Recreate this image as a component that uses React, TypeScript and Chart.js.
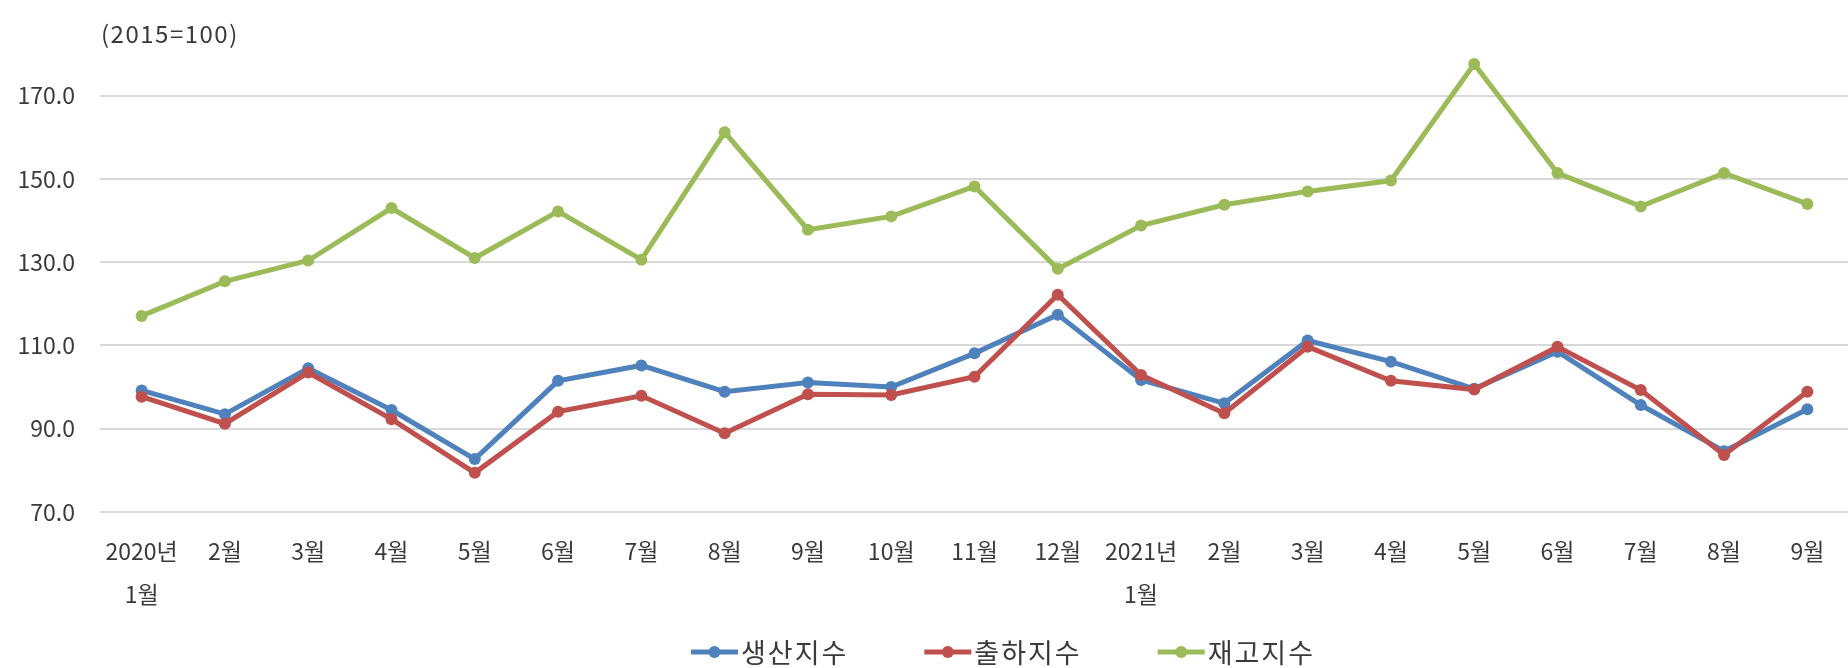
import React, { useEffect, useRef } from 'react';
import { Chart, registerables } from 'chart.js';

Chart.register(...registerables);

// ---- data ----
const categories: (string | string[])[] = [
  ['2020년', '1월'], '2월', '3월', '4월', '5월', '6월', '7월', '8월', '9월', '10월', '11월', '12월',
  ['2021년', '1월'], '2월', '3월', '4월', '5월', '6월', '7월', '8월', '9월',
];
const productionIndex = [99.2, 93.5, 104.5, 94.5, 82.7, 101.5, 105.2, 98.9, 101.1, 100.0, 108.1, 117.4, 101.7, 96.1, 111.2, 106.1, 99.6, 108.5, 95.7, 84.6, 94.7];
const shipmentIndex = [97.7, 91.2, 103.5, 92.3, 79.4, 94.1, 97.9, 88.9, 98.3, 98.1, 102.5, 122.2, 102.9, 93.7, 109.7, 101.5, 99.4, 109.7, 99.3, 83.7, 98.9];
const inventoryIndex = [117.1, 125.4, 130.4, 143.0, 131.0, 142.2, 130.6, 161.2, 137.8, 141.0, 148.2, 128.4, 138.8, 143.8, 147.0, 149.6, 177.6, 151.4, 143.4, 151.4, 144.0];
const seriesNames = ['생산지수', '출하지수', '재고지수'];
const yTicks = [70, 90, 110, 130, 150, 170];
const unitLabel = '(2015=100)';

const FONT = '"Noto Sans CJK KR", "Noto Sans", sans-serif';
const TEXT = '#3a3a3a';
const COLORS = ['#4F81BD', '#C0504D', '#9BBB59'];

const overlayPlugin = {
  id: 'overlay',
  afterDraw(chart: any) {
    const ctx = chart.ctx as CanvasRenderingContext2D;
    ctx.save();
    ctx.fillStyle = TEXT;
    ctx.textBaseline = 'middle';
    ctx.textAlign = 'left';
    ctx.font = `24px ${FONT}`;
    try { (ctx as any).letterSpacing = '1.5px'; } catch (e) {}
    ctx.fillText(unitLabel, chart.chartArea.left + 1, 34);

    const ds = chart.data.datasets;
    ctx.font = `27px ${FONT}`;
    try { (ctx as any).letterSpacing = '2px'; } catch (e) {}
    const lineW = 47;
    const gap = 3;
    const itemGap = 76;
    const widths = ds.map((d: any) => lineW + gap + ctx.measureText(d.label).width);
    const total = widths.reduce((a: number, b: number) => a + b, 0) + itemGap * (ds.length - 1);
    let x = 1003 - total / 2;
    const y = 652;
    ds.forEach((d: any, i: number) => {
      ctx.strokeStyle = d.borderColor;
      ctx.lineWidth = 5;
      ctx.beginPath();
      ctx.moveTo(x, y);
      ctx.lineTo(x + lineW, y);
      ctx.stroke();
      ctx.fillStyle = d.borderColor;
      ctx.beginPath();
      ctx.arc(x + lineW / 2, y, 6, 0, Math.PI * 2);
      ctx.fill();
      ctx.fillStyle = TEXT;
      ctx.fillText(d.label, x + lineW + gap, y + 1);
      x += widths[i] + itemGap;
    });
    ctx.restore();
  },
};

export default function App() {
  const ref = useRef<HTMLCanvasElement | null>(null);

  useEffect(() => {
    if (!ref.current) return;
    const seriesData = [productionIndex, shipmentIndex, inventoryIndex];
    const chart = new Chart(ref.current, {
      type: 'line',
      data: {
        labels: categories as any,
        datasets: seriesNames.map((name, i) => ({
          label: name,
          data: seriesData[i],
          borderColor: COLORS[i],
          backgroundColor: COLORS[i],
          borderWidth: 5,
          pointRadius: 6,
          pointHoverRadius: 6,
          pointBorderWidth: 0,
          pointBackgroundColor: COLORS[i],
          tension: 0,
          order: 3 - i,
        })),
      },
      options: {
        responsive: false,
        animation: false,
        layout: { padding: { top: 54, bottom: 52, left: 0, right: 0 } },
        plugins: {
          legend: { display: false },
          tooltip: { enabled: false },
          title: { display: false },
        },
        scales: {
          x: {
            type: 'category',
            offset: true,
            grid: { display: false, drawTicks: false },
            border: { display: false },
            ticks: {
              autoSkip: false,
              maxRotation: 0,
              minRotation: 0,
              padding: 18,
              color: TEXT,
              font: { family: FONT, size: 23, lineHeight: 1.87 },
            },
            afterFit: (scale: any) => { scale.height = 104; },
          },
          y: {
            type: 'linear',
            min: 70,
            max: 180,
            grid: { color: '#d9d9d9', lineWidth: 2, drawTicks: false },
            border: { display: false },
            ticks: {
              padding: 25,
              color: TEXT,
              font: { family: FONT, size: 23 },
              callback: (v: any) => Number(v).toFixed(1),
            },
            afterBuildTicks: (scale: any) => { scale.ticks = yTicks.map((v) => ({ value: v })); },
            afterFit: (scale: any) => { scale.width = 100; },
          },
        },
      },
      plugins: [overlayPlugin],
    });
    return () => chart.destroy();
  }, []);

  return (
    <div style={{ position: 'fixed', left: 0, top: 0, width: 1848, height: 668, overflow: 'hidden', background: '#fff' }}>
      <canvas ref={ref} width={1855} height={668} style={{ display: 'block', width: 1855, height: 668 }} />
    </div>
  );
}
